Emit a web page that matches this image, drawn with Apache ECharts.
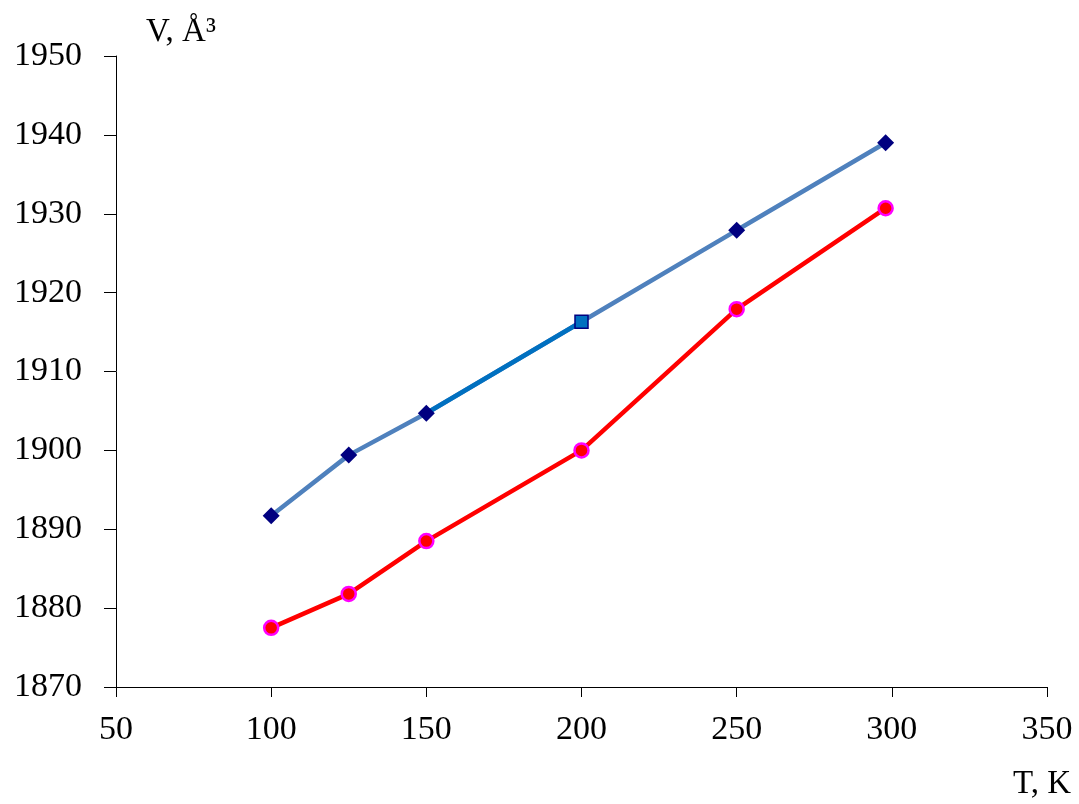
<!DOCTYPE html>
<html>
<head>
<meta charset="utf-8">
<script src="https://cdn.jsdelivr.net/npm/echarts@6/dist/echarts.min.js"></script>
<style>
html,body{margin:0;padding:0;background:#fff;}
#chart{width:1079px;height:804px;}
</style>
</head>
<body>
<div id="chart"></div>
<script>
var temps = [100, 125, 150, 200, 250, 298];
var volBlue = [1891.7, 1899.4, 1904.7, 1916.3, 1927.9, 1939.0];
var volRed = [1877.5, 1881.8, 1888.5, 1900.0, 1917.9, 1930.7];
var xTicks = [50, 100, 150, 200, 250, 300, 350];
var yTicks = [1870, 1880, 1890, 1900, 1910, 1920, 1930, 1940, 1950];
var yName = 'V, Å³';
var xName = 'T, K';

function pairs(xs, ys) { return xs.map(function (x, i) { return [x, ys[i]]; }); }
var bluePts = pairs(temps, volBlue);
var redPts = pairs(temps, volRed);
var segIdx = [temps.indexOf(150), temps.indexOf(200)];
var segPts = bluePts.slice(segIdx[0], segIdx[1] + 1);
var blueMarks = bluePts.map(function (p) {
  if (p[0] === 200) {
    return { value: p, symbol: 'rect', symbolSize: 13,
      itemStyle: { color: '#0070C0', borderColor: '#000080', borderWidth: 1.5 } };
  }
  return { value: p };
});

var font = 'Liberation Serif, Times New Roman, serif';
var chart = echarts.init(document.getElementById('chart'));
chart.setOption({
  animation: false,
  backgroundColor: '#ffffff',
  grid: { left: 116, top: 56, right: 32, bottom: 117 },
  xAxis: {
    type: 'value', min: xTicks[0], max: xTicks[xTicks.length - 1], interval: 50,
    splitLine: { show: false },
    axisLine: { show: true, onZero: false, lineStyle: { color: '#000', width: 1 } },
    axisTick: { show: true, length: 10, lineStyle: { color: '#000' } },
    axisLabel: { color: '#000', fontFamily: font, fontSize: 34, margin: 26,
      formatter: function (v) { return String(v); } }
  },
  yAxis: {
    type: 'value', min: yTicks[0], max: yTicks[yTicks.length - 1], interval: 10,
    splitLine: { show: false },
    axisLine: { show: true, onZero: false, lineStyle: { color: '#000', width: 1 } },
    axisTick: { show: true, length: 12, lineStyle: { color: '#000' } },
    axisLabel: { color: '#000', fontFamily: font, fontSize: 34, margin: 34,
      formatter: function (v) { return String(v); } }
  },
  graphic: [
    { type: 'text', left: 146, top: 16, style: { text: yName, fontFamily: font, fontSize: 33, fill: '#000' } },
    { type: 'text', left: 1013, top: 768, style: { text: xName, fontFamily: font, fontSize: 33, fill: '#000' } }
  ],
  series: [
    { type: 'line', data: bluePts, showSymbol: false, z: 2,
      lineStyle: { color: '#4F81BD', width: 4.5 } },
    { type: 'line', data: segPts, showSymbol: false, z: 3,
      lineStyle: { color: '#0070C0', width: 4.5 } },
    { type: 'scatter', data: blueMarks, symbol: 'diamond', symbolSize: 17, z: 5,
      itemStyle: { color: '#000080', opacity: 1 } },
    { type: 'line', data: redPts, symbol: 'circle', symbolSize: 14, showAllSymbol: true, z: 4,
      lineStyle: { color: '#FF0000', width: 4.5 },
      itemStyle: { color: '#FF0000', borderColor: '#FF00FF', borderWidth: 2.5 } }
  ]
});
</script>
</body>
</html>
